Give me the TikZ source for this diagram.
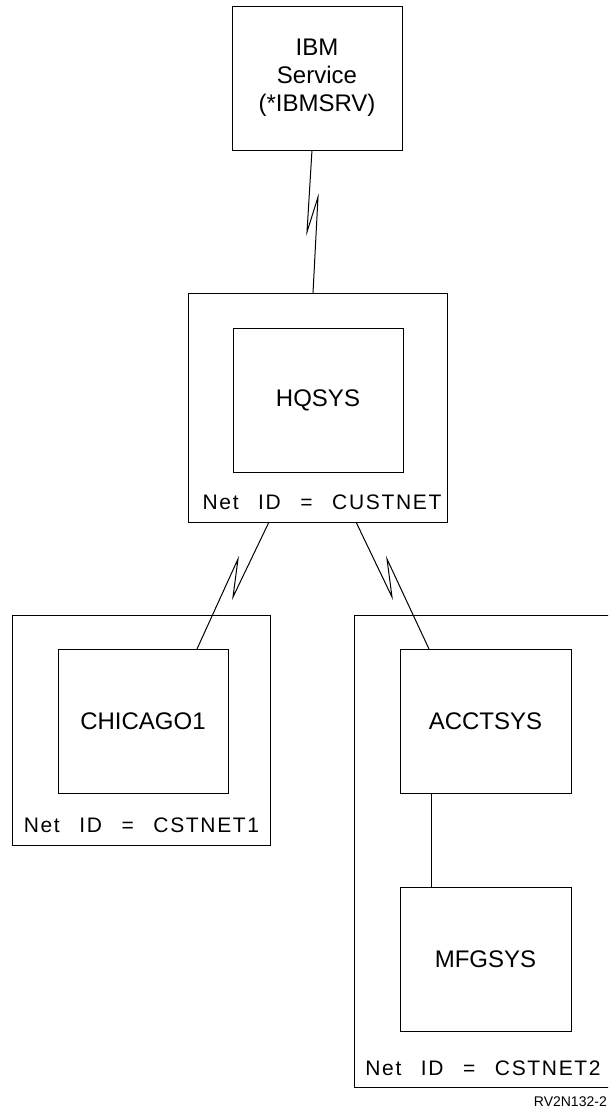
\documentclass[tikz,border=0pt]{standalone}
\usepackage{fontspec}
\setmainfont{Liberation Sans}
\newfontfamily\netfont[LetterSpace=8,WordSpace=2.6]{Liberation Sans}
\begin{document}
\begin{tikzpicture}[x=1pt,y=-1pt,
  sysbox/.style={draw, line width=1pt, inner sep=0pt, outer sep=0pt,
    minimum width=170pt, minimum height=144pt, align=center,
    font=\fontsize{24}{28}\selectfont},
  netbox/.style={draw, line width=1pt, inner sep=0pt, outer sep=0pt},
  netlabel/.style={anchor=base, inner sep=0pt, font=\netfont\fontsize{21}{24}\selectfont},
  link/.style={line width=1pt, line join=miter}]
\useasboundingbox (0,0) rectangle (608,1111);
\clip (0,0) rectangle (608,1111);
% outer network boxes
\node[netbox, minimum width=259pt, minimum height=229pt] (hqout) at (317.5,407.5) {};
\node[netbox, minimum width=258pt, minimum height=230pt] (chiout) at (141,730) {};
\node[netbox, minimum width=266pt, minimum height=472pt] (rout) at (487,851) {};
% systems
\node[sysbox] (ibm) at (317,78) {IBM\\Service\\(*IBMSRV)};
\node[sysbox] (hq) at (318,400) {HQSYS};
\node[sysbox] (chi) at (143,721) {CHICAGO1};
\node[sysbox, minimum width=171pt] (acct) at (485.5,721) {ACCTSYS};
\node[sysbox, minimum width=171pt] (mfg) at (485.5,959.5) {MFGSYS};
% net id labels
\node[netlabel] (n0) at (322,509) {Net ID = CUSTNET};
\node[netlabel] (n1) at (141.5,832) {Net ID = CSTNET1};
\node[netlabel] (n2) at (483,1075) {Net ID = CSTNET2};
\node[anchor=base east, inner sep=0pt, font=\fontsize{14}{16}\selectfont] (fig) at (607,1106) {RV2N132-2};
% links
\draw[link] ([xshift=-5pt]ibm.south) -- (307,232) -- (318,197) -- ([xshift=-4.5pt]hqout.north);
\draw[link] ([xshift=-48.5pt]hqout.south) -- (233,597) -- (238,559) -- ([xshift=54pt]chi.north);
\draw[link] ([xshift=38.5pt]hqout.south) -- (392,597) -- (387,559) -- ([xshift=-56.5pt]acct.north);
\draw[link] ([xshift=-54pt]acct.south) -- ([xshift=-54pt]mfg.north);
\end{tikzpicture}
\end{document}
